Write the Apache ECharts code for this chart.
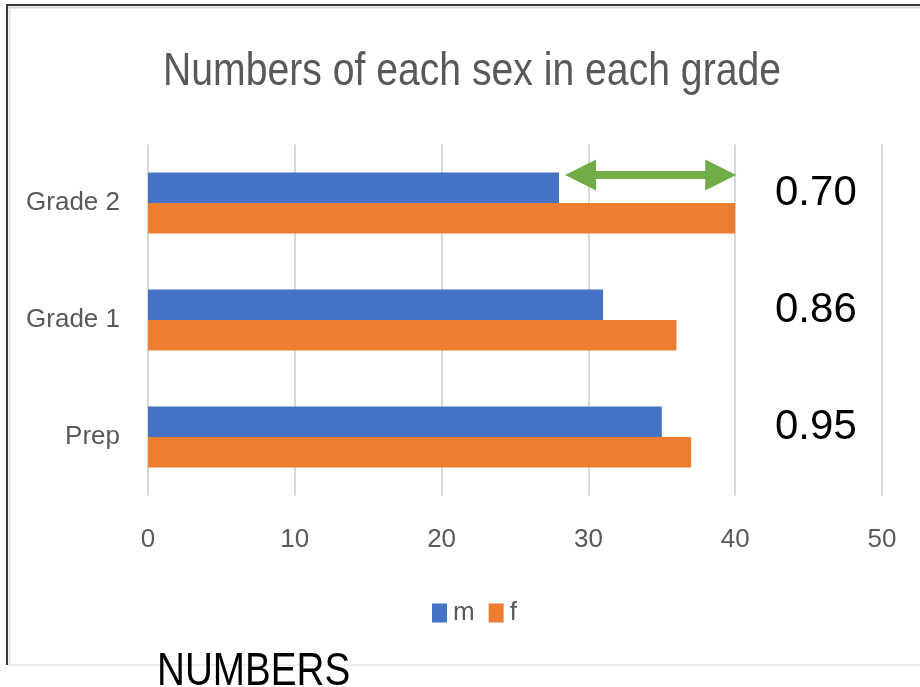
<!DOCTYPE html>
<html>
<head>
<meta charset="utf-8">
<script src="https://cdn.jsdelivr.net/npm/echarts@6/dist/echarts.min.js"></script>
<style>
  html, body { margin: 0; padding: 0; background: #ffffff; }
  #chart { width: 920px; height: 687px; }
</style>
</head>
<body>
<div id="chart"></div>
<script>
// Grades (bottom to top) and head counts per sex
const grades = ['Prep', 'Grade 1', 'Grade 2'];
const male = [35, 31, 28];
const female = [37, 36, 40];
const xTicks = [0, 10, 20, 30, 40, 50];
const seriesNames = ['m', 'f'];

const FONT = '"Liberation Sans", Arial, sans-serif';
const GREY = '#595959';

const chart = echarts.init(document.getElementById('chart'));

chart.setOption({
  animation: false,
  backgroundColor: '#ffffff',
  legend: {
    data: seriesNames,
    left: 427,
    top: 595,
    icon: 'rect',
    itemWidth: 15,
    itemHeight: 19,
    itemGap: 14,
    textStyle: { fontFamily: FONT, fontSize: 26, color: GREY, padding: [0, 0, 0, 1] }
  },
  grid: { left: 148, right: 38, top: 144.5, bottom: 191.5, containLabel: false },
  xAxis: {
    type: 'value',
    min: xTicks[0],
    max: xTicks[xTicks.length - 1],
    interval: 10,
    axisLine: { show: false },
    axisTick: { show: false },
    splitLine: { lineStyle: { color: '#d9d9d9', width: 2 } },
    axisLabel: { fontFamily: FONT, fontSize: 26, color: GREY, margin: 31 }
  },
  yAxis: {
    type: 'category',
    data: grades,
    axisLine: { show: false },
    axisTick: { show: false },
    splitLine: { show: false },
    axisLabel: { fontFamily: FONT, fontSize: 26, color: GREY, margin: 28 }
  },
  series: [
    {
      name: 'm', type: 'bar', data: male, barWidth: 30.5, barGap: '0%',
      itemStyle: { color: '#4472C4' }
    },
    {
      name: 'f', type: 'bar', data: female, barWidth: 30.5, barGap: '0%',
      itemStyle: { color: '#ED7D31' }
    }
  ]
});

// Annotations: m/f ratio per grade and the gap arrow on Grade 2
function px(v) { return chart.convertToPixel({ xAxisIndex: 0 }, v); }
function py(cat) { return chart.convertToPixel({ yAxisIndex: 0 }, cat); }

const elements = [];

// frame lines
elements.push({ type: 'line', shape: { x1: 6, y1: 5, x2: 920, y2: 5 }, style: { stroke: '#3a3a3a', lineWidth: 2 } });
elements.push({ type: 'line', shape: { x1: 6, y1: 7.5, x2: 920, y2: 7.5 }, style: { stroke: '#d6d6d6', lineWidth: 2 } });
elements.push({ type: 'line', shape: { x1: 7, y1: 4, x2: 7, y2: 665 }, style: { stroke: '#3a3a3a', lineWidth: 2 } });
elements.push({ type: 'line', shape: { x1: 9.5, y1: 8, x2: 9.5, y2: 665 }, style: { stroke: '#e6e6e6', lineWidth: 2 } });
elements.push({ type: 'line', shape: { x1: 8, y1: 665, x2: 920, y2: 665 }, style: { stroke: '#eeeeee', lineWidth: 2 } });

// chart title, set in a condensed width
elements.push({
  type: 'text',
  x: 163,
  y: 72,
  scaleX: 0.851,
  style: {
    text: 'Numbers of each sex in each grade',
    fontFamily: FONT,
    fontSize: 46,
    fill: GREY,
    textAlign: 'left',
    textVerticalAlign: 'middle'
  }
});

grades.forEach(function (g, i) {
  const ratio = (male[i] / female[i]).toFixed(2);
  elements.push({
    type: 'text',
    x: 775,
    y: py(g) - 10,
    style: {
      text: ratio,
      fontFamily: FONT,
      fontSize: 42,
      fill: '#000000',
      textAlign: 'left',
      textVerticalAlign: 'middle'
    }
  });
});

// double-headed arrow spanning the Grade 2 gap between m and f
const gi = grades.indexOf('Grade 2');
const ay = py('Grade 2') - 28;
const xl = px(male[gi]) + 6;
const xr = px(female[gi]) + 1;
const head = 31, hh = 15.5, sh = 4;
elements.push({
  type: 'polygon',
  shape: {
    points: [
      [xl, ay], [xl + head, ay - hh], [xl + head, ay - sh],
      [xr - head, ay - sh], [xr - head, ay - hh], [xr, ay],
      [xr - head, ay + hh], [xr - head, ay + sh],
      [xl + head, ay + sh], [xl + head, ay + hh]
    ]
  },
  style: { fill: '#70AD47' }
});

elements.push({
  type: 'text',
  x: 157,
  y: 672.5,
  scaleX: 0.84,
  style: {
    text: 'NUMBERS',
    fontFamily: FONT,
    fontSize: 46,
    fill: '#000000',
    textAlign: 'left',
    textVerticalAlign: 'middle'
  }
});

chart.setOption({ graphic: { elements: elements } });
</script>
</body>
</html>
